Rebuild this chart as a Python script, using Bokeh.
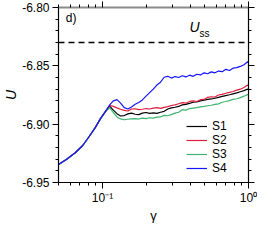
from bokeh.plotting import figure
from bokeh.models import (Range1d, LinearAxis, LogAxis, FixedTicker,
                          PrintfTickFormatter, CustomJSTickFormatter, Span, Label)
from bokeh.embed import file_html
from bokeh.resources import INLINE

# ---- data ----
COMMON_G = [0.050, 0.0569, 0.0651, 0.0730, 0.0807, 0.0892, 0.0972, 0.1044]
COMMON_U = [-6.9346, -6.9300, -6.9245, -6.9185, -6.9110, -6.9030, -6.8950, -6.8895]

BRANCH_G = [0.1121, 0.1187, 0.1257, 0.1331, 0.1410, 0.1493, 0.1580, 0.1674, 0.1772, 0.1876,
            0.1987, 0.2104, 0.2228, 0.2359, 0.2498, 0.2645, 0.2800, 0.2965, 0.3140, 0.3324,
            0.3520, 0.3727, 0.3947, 0.4179, 0.4425, 0.4686, 0.4962, 0.5254, 0.5562, 0.5890,
            0.6237, 0.6604, 0.6993, 0.7405, 0.7841, 0.8303, 0.8792, 0.9309, 0.9858, 1.0]

S1_U = [-6.8845, -6.8880, -6.8910, -6.8930, -6.8926, -6.8912, -6.8906, -6.8915, -6.8918, -6.8905,
        -6.8900, -6.8908, -6.8904, -6.8908, -6.8898, -6.8890, -6.8870, -6.8860, -6.8855, -6.8848,
        -6.8835, -6.8830, -6.8822, -6.8812, -6.8810, -6.8800, -6.8795, -6.8788, -6.8784, -6.8778,
        -6.8770, -6.8762, -6.8755, -6.8748, -6.8740, -6.8732, -6.8722, -6.8712, -6.8700, -6.8705]
S2_U = [-6.8840, -6.8848, -6.8860, -6.8872, -6.8882, -6.8887, -6.8870, -6.8868, -6.8876, -6.8872,
        -6.8866, -6.8870, -6.8862, -6.8858, -6.8865, -6.8856, -6.8850, -6.8840, -6.8835, -6.8825,
        -6.8815, -6.8820, -6.8805, -6.8800, -6.8806, -6.8790, -6.8788, -6.8770, -6.8765, -6.8768,
        -6.8750, -6.8745, -6.8735, -6.8728, -6.8720, -6.8708, -6.8700, -6.8685, -6.8665, -6.8675]
S3_U = [-6.8860, -6.8900, -6.8938, -6.8955, -6.8962, -6.8958, -6.8955, -6.8952, -6.8956, -6.8948,
        -6.8952, -6.8945, -6.8948, -6.8940, -6.8938, -6.8925, -6.8928, -6.8918, -6.8905, -6.8898,
        -6.8876, -6.8880, -6.8866, -6.8862, -6.8858, -6.8852, -6.8848, -6.8842, -6.8838, -6.8830,
        -6.8826, -6.8812, -6.8806, -6.8798, -6.8788, -6.8782, -6.8772, -6.8760, -6.8745, -6.8752]
S4_U = [-6.8835, -6.8800, -6.8790, -6.8820, -6.8858, -6.8870, -6.8852, -6.8830, -6.8815, -6.8792,
        -6.8760, -6.8730, -6.8700, -6.8665, -6.8640, -6.8598, -6.8590, -6.8605, -6.8592, -6.8600,
        -6.8585, -6.8595, -6.8580, -6.8590, -6.8572, -6.8578, -6.8560, -6.8568, -6.8552, -6.8560,
        -6.8545, -6.8550, -6.8530, -6.8540, -6.8520, -6.8515, -6.8505, -6.8490, -6.8465, -6.8475]

SERIES_NAMES = ["S1", "S2", "S3", "S4"]
SERIES_COLORS = ["#000000", "#dc1e3c", "#3cb46e", "#1414ff"]

USS = -6.83
Y_TICKS = [-6.95, -6.90, -6.85, -6.80]
Y_MINOR = [-6.94, -6.93, -6.92, -6.91, -6.89, -6.88, -6.87, -6.86,
           -6.84, -6.83, -6.82, -6.81]
X_TICKS = [0.1, 1.0]
X_MINOR = [0.05, 0.06, 0.07, 0.08, 0.09, 0.2, 0.3, 0.4, 0.5, 0.6, 0.7, 0.8, 0.9]
X_LABELS = {0.1: "10\u207b\u00b9", 1: "10\u2070"}

FONT = "Liberation Sans"

p = figure(width=257, height=225, x_axis_type="log",
           x_range=Range1d(0.05, 1.0), y_range=Range1d(-6.9500001, -6.7999999),
           output_backend="svg", toolbar_location=None,
           min_border_left=51, min_border_right=9, min_border_top=7, min_border_bottom=37)
p.xgrid.visible = False
p.ygrid.visible = False
p.outline_line_color = None
p.background_fill_color = "white"
p.border_fill_color = "white"

series = [S1_U, S2_U, S3_U, S4_U]
for name, col, u in zip(SERIES_NAMES, SERIES_COLORS, series):
    p.line(COMMON_G + BRANCH_G, COMMON_U + u, line_color=col, line_width=1.2,
           legend_label=name)

p.add_layout(Span(location=USS, dimension="width", line_color="black",
                  line_width=1.5, line_dash="6 4"))

p.add_layout(Label(x=0.0561, y=-6.8147, text="d)", text_font=FONT,
                   text_font_size="12px", text_color="black"))
p.add_layout(Label(x=0.394, y=-6.8232, text="U", text_font=FONT,
                   text_font_style="italic", text_font_size="14px", text_color="black"))
p.add_layout(Label(x=0.394, y=-6.8232, x_offset=10, y_offset=-4, text="ss",
                   text_font=FONT, text_font_size="10px", text_color="black"))


def style_axis(ax):
    ax.axis_line_color = "black"
    ax.axis_line_width = 1.2
    ax.major_tick_line_color = "black"
    ax.minor_tick_line_color = "black"
    ax.major_tick_out = 6
    ax.major_tick_in = 0
    ax.minor_tick_out = 3
    ax.minor_tick_in = 0
    ax.major_label_text_font = FONT
    ax.major_label_text_font_size = "12px"
    ax.major_label_text_color = "black"
    ax.axis_label_text_font = FONT
    ax.axis_label_text_color = "black"


blank = CustomJSTickFormatter(code="return ''")

# bottom
xa = p.xaxis[0]
style_axis(xa)
xa.ticker = FixedTicker(ticks=X_TICKS, minor_ticks=X_MINOR)
xa.major_label_overrides = X_LABELS
xa.major_label_standoff = 2
xa.axis_label = "\u03b3"
xa.axis_label_text_font_size = "13px"
xa.axis_label_text_font_style = "normal"
xa.axis_label_standoff = 0

# left
ya = p.yaxis[0]
style_axis(ya)
ya.ticker = FixedTicker(ticks=Y_TICKS, minor_ticks=Y_MINOR)
ya.formatter = PrintfTickFormatter(format="%.2f")
ya.major_label_standoff = 3
ya.axis_label = "U"
ya.axis_label_text_font_size = "14px"
ya.axis_label_text_font_style = "italic"
ya.axis_label_standoff = 0

# top
ta = LogAxis(ticker=FixedTicker(ticks=X_TICKS, minor_ticks=X_MINOR), formatter=blank)
style_axis(ta)
ta.axis_line_color = "#8a8a8a"
ta.axis_line_width = 1.8
ta.major_label_standoff = -20
p.add_layout(ta, "above")

# right
ra = LinearAxis(ticker=FixedTicker(ticks=Y_TICKS, minor_ticks=Y_MINOR), formatter=blank)
style_axis(ra)
ra.major_label_standoff = -20
p.add_layout(ra, "right")

lg = p.legend[0]
lg.location = (128, 7)
lg.border_line_color = None
lg.background_fill_alpha = 0
lg.padding = 0
lg.margin = 0
lg.spacing = -2
lg.glyph_width = 21
lg.glyph_height = 12
lg.label_height = 12
lg.label_standoff = 5
lg.label_text_font = FONT
lg.label_text_font_size = "12px"
lg.label_text_color = "black"

open("out.html", "w").write(file_html(p, INLINE))
